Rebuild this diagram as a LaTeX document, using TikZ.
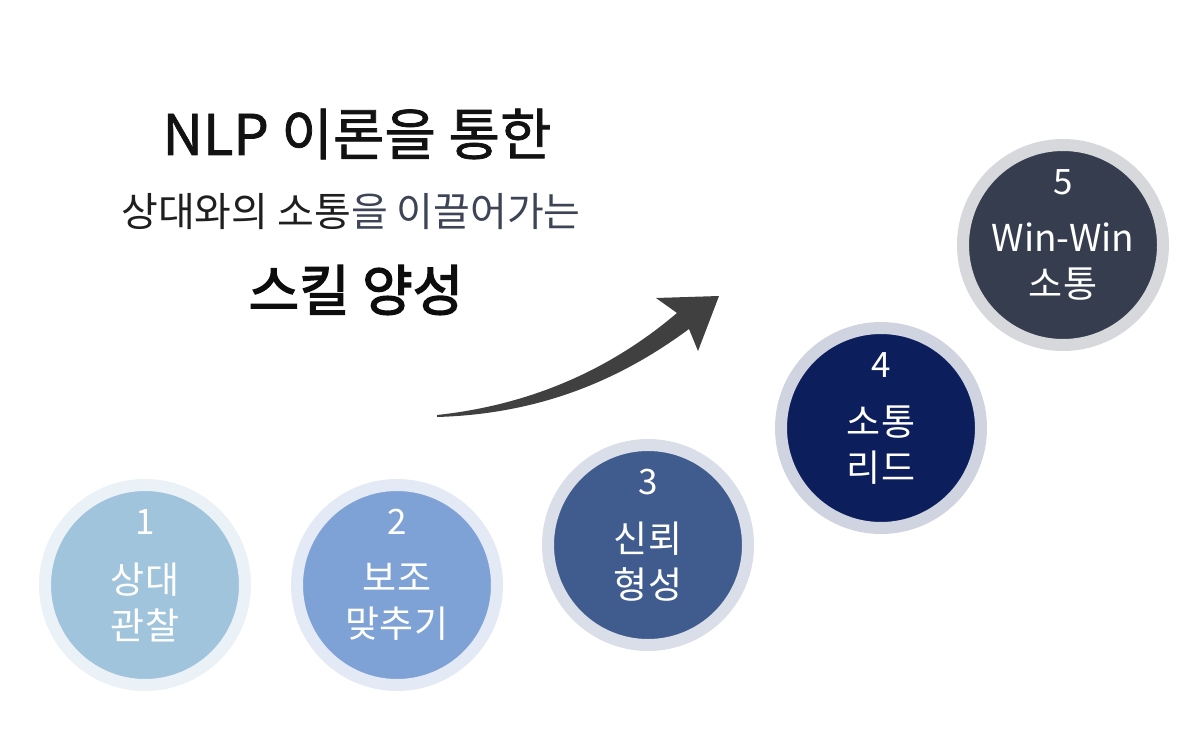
\documentclass[tikz,border=0pt]{standalone}
\usepackage{fontspec}
\setmainfont{Noto Sans CJK KR}
\newfontfamily\kr{Noto Sans CJK KR}
\newfontfamily\krmed[FakeBold=1.3]{Noto Sans CJK KR}
\newfontfamily\krsemi[FakeBold=2.6]{Noto Sans CJK KR}
\definecolor{ringA}{HTML}{EAF1F7}
\definecolor{fillA}{HTML}{A0C4DC}
\definecolor{ringB}{HTML}{E3EAF6}
\definecolor{fillB}{HTML}{7FA2D6}
\definecolor{ringC}{HTML}{D9DEE8}
\definecolor{fillC}{HTML}{405B8D}
\definecolor{ringD}{HTML}{D0D4E0}
\definecolor{fillD}{HTML}{0C1F5C}
\definecolor{ringE}{HTML}{D7D8DC}
\definecolor{fillE}{HTML}{363D4E}
\definecolor{arrowc}{HTML}{404040}
\definecolor{subgray}{HTML}{3D4455}
\begin{document}
\begin{tikzpicture}[x=1pt,y=-1pt,
  stepcircle/.style={circle,minimum size=200pt,inner sep=0pt,outer sep=0pt,line width=12pt},
  numtxt/.style={text=white,font=\kr\fontsize{35}{38}\selectfont,inner sep=0pt},
  labtxt/.style={text=white,font=\kr\fontsize{37}{46}\selectfont,inner sep=0pt,align=center}]
\useasboundingbox[fill=white] (0,0) rectangle (1201,730);
% titles
\node[font=\krmed\fontsize{56}{60}\selectfont,text=black!93] (t1) at (357,134) {NLP 이론을 통한};
\node[font=\kr\fontsize{40}{44}\selectfont,text=black!88] (t2) at (351,212) {상대와의 소통\textcolor{subgray}{을 이끌어가는}};
\node[font=\krsemi\fontsize{55}{60}\selectfont,text=black!95] (t3) at (356,290) {스킬 양성};
% arrow
\fill[arrowc] (437,415) .. controls (530,405) and (610,370) .. (677,313)
  -- (656,298) -- (719,296) -- (698,351) -- (689,329)
  .. controls (620,380) and (540,414) .. (437,417) -- cycle;
% circles
\node[stepcircle,fill=fillA,draw=ringA] (c1) at (145,585) {};
\node[stepcircle,fill=fillB,draw=ringB] (c2) at (397,585) {};
\node[stepcircle,fill=fillC,draw=ringC] (c3) at (648,545) {};
\node[stepcircle,fill=fillD,draw=ringD] (c4) at (881,428) {};
\node[stepcircle,fill=fillE,draw=ringE] (c5) at (1063,245) {};
% texts
\node[numtxt] (n1) at ([yshift=63pt]c1.center) {1};
\node[labtxt] (l1) at ([yshift=-17pt]c1.center) {상대\\관찰};
\node[numtxt] (n2) at ([yshift=63pt]c2.center) {2};
\node[labtxt] (l2) at ([yshift=-17pt]c2.center) {보조\\맞추기};
\node[numtxt] (n3) at ([yshift=63pt]c3.center) {3};
\node[labtxt] (l3) at ([yshift=-17pt]c3.center) {신뢰\\형성};
\node[numtxt] (n4) at ([yshift=63pt]c4.center) {4};
\node[labtxt] (l4) at ([yshift=-17pt]c4.center) {소통\\리드};
\node[numtxt] (n5) at ([yshift=63pt]c5.center) {5};
\node[labtxt] (l5) at ([yshift=-17pt]c5.center) {Win-Win\\소통};
\end{tikzpicture}
\end{document}
